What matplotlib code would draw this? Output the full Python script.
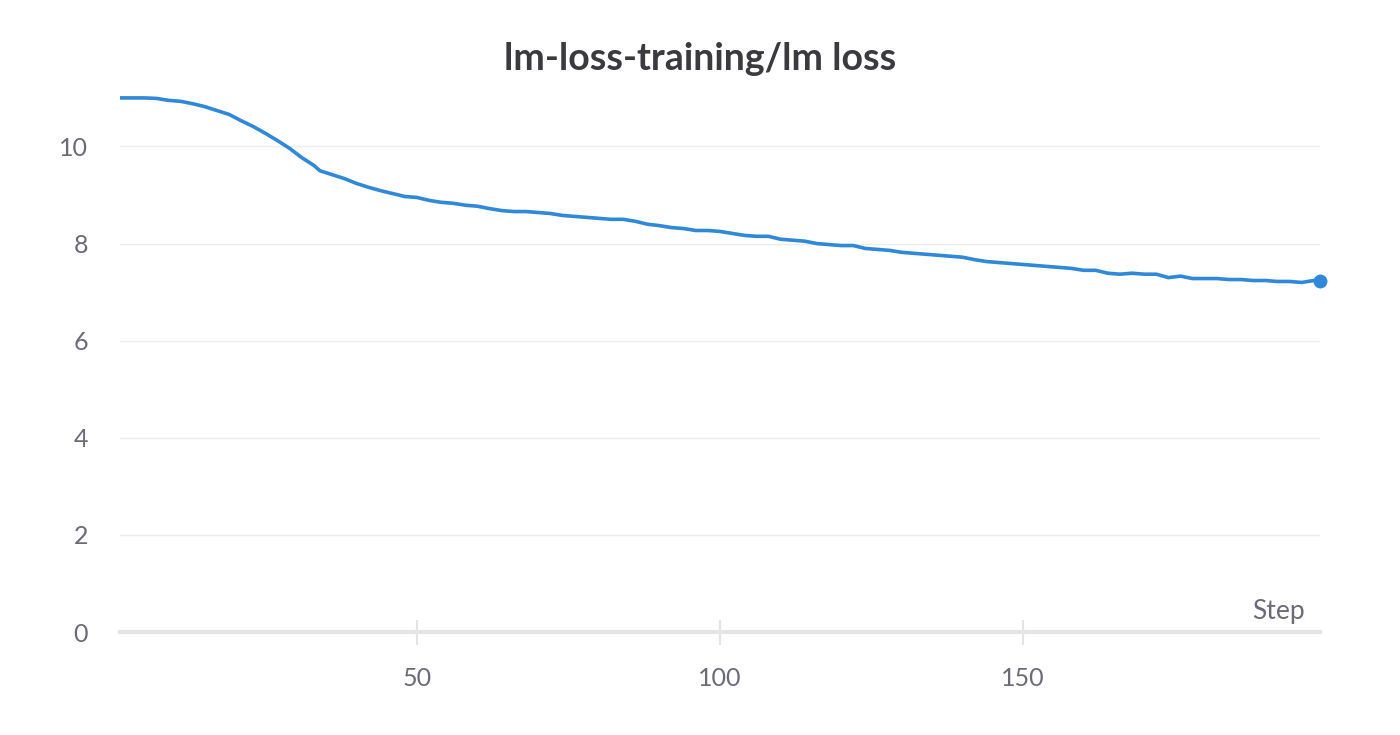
import matplotlib.pyplot as plt

plt.rcParams['font.family'] = ['Lato', 'DejaVu Sans']

# 값 읽기 (그림에서 추정)
steps = [1, 5, 7, 9, 11, 13, 15, 17, 19, 21, 23, 25, 27, 29, 31, 33, 34, 36, 38, 40,
         42, 44, 46, 48, 50, 52, 54, 56, 58, 60, 62, 64, 66, 68, 70, 72, 74, 76, 78, 80,
         82, 84, 86, 88, 90, 92, 94, 96, 98, 100, 102, 104, 106, 108, 110, 112, 114, 116, 118, 120,
         122, 124, 126, 128, 130, 132, 134, 136, 138, 140, 142, 144, 146, 148, 150, 152, 154, 156, 158, 160,
         162, 164, 166, 168, 170, 172, 174, 176, 178, 180, 182, 184, 186, 188, 190, 192, 194, 196, 198, 199]
loss = [11.0, 11.0, 10.99, 10.95, 10.93, 10.88, 10.82, 10.74, 10.66, 10.53, 10.41, 10.27, 10.12, 9.96, 9.77, 9.61, 9.5, 9.42, 9.34, 9.24,
        9.16, 9.09, 9.03, 8.97, 8.95, 8.89, 8.85, 8.83, 8.79, 8.77, 8.72, 8.68, 8.66, 8.66, 8.64, 8.62, 8.58, 8.56, 8.54, 8.52,
        8.5, 8.5, 8.46, 8.4, 8.37, 8.33, 8.31, 8.27, 8.27, 8.25, 8.21, 8.17, 8.15, 8.15, 8.09, 8.07, 8.05, 8.0, 7.98, 7.96,
        7.96, 7.9, 7.88, 7.86, 7.82, 7.8, 7.78, 7.76, 7.74, 7.72, 7.67, 7.63, 7.61, 7.59, 7.57, 7.55, 7.53, 7.51, 7.49, 7.45,
        7.45, 7.39, 7.37, 7.39, 7.37, 7.37, 7.3, 7.33, 7.28, 7.28, 7.28, 7.26, 7.26, 7.24, 7.24, 7.22, 7.22, 7.2, 7.24, 7.22]

x_ticks = [50, 100, 150]
y_ticks = [0, 2, 4, 6, 8, 10]

line_color = '#2f88d8'
label_color = '#6b6b76'

fig = plt.figure(figsize=(14, 7.35), dpi=100)
ax = fig.add_axes([0.0857, 0.140, 0.8571, 0.740])

ax.plot(steps, loss, color=line_color, lw=2.6, solid_joinstyle='round')
ax.plot(steps[-1], loss[-1], 'o', color=line_color, ms=9, clip_on=False)

ax.set_xlim(1, 199)
ax.set_ylim(0, 11.2)
ax.set_xticks(x_ticks)
ax.set_yticks(y_ticks)

# 격자
ax.grid(axis='y', color='#ececec', lw=1)
ax.set_axisbelow(True)

for s in ['top', 'right', 'left']:
    ax.spines[s].set_visible(False)
ax.spines['bottom'].set_color('#e4e4e4')
ax.spines['bottom'].set_linewidth(3)

ax.tick_params(axis='y', length=0, pad=23, labelsize=18, labelcolor=label_color)
ax.tick_params(axis='x', direction='inout', length=18, width=1.5, color='#e4e4e4',
               pad=16, labelsize=18, labelcolor=label_color)

ax.text(0.987, 0.015, 'Step', transform=ax.transAxes, ha='right', va='bottom',
        fontsize=19, color=label_color)

fig.text(0.5, 0.92, 'lm-loss-training/lm loss', ha='center', va='center',
         fontsize=27, fontweight='bold', color='#3a3a3f')

plt.savefig('out.png', dpi=100)
